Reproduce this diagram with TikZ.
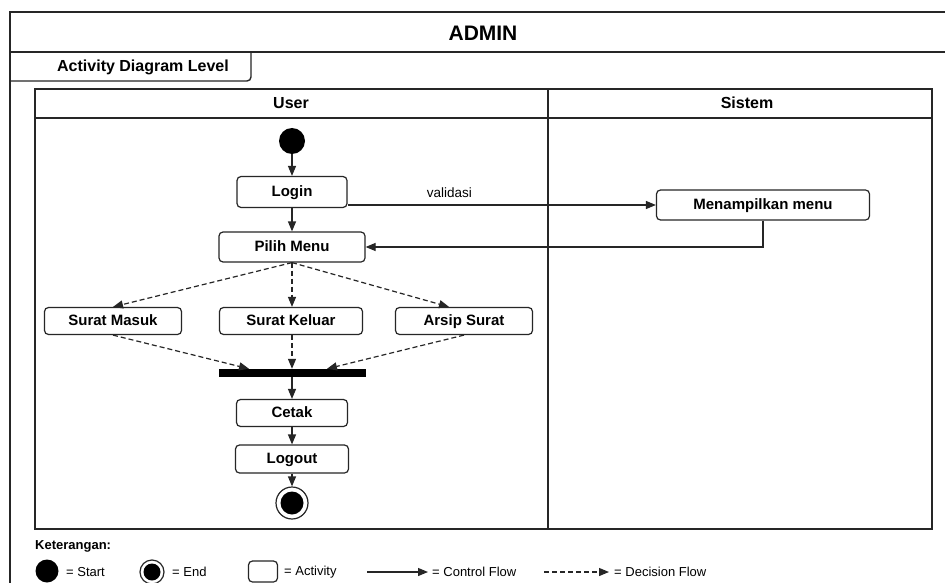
\documentclass[tikz,border=0pt]{standalone}
\usepackage{fontspec}
\setmainfont{Liberation Sans}
\usetikzlibrary{arrows.meta}

\begin{document}
\begin{tikzpicture}[x=1pt,y=-1pt,
    act/.style={draw=black!85,line width=1.2pt,rounded corners=4pt,fill=white,font=\fontsize{15}{18}\selectfont\bfseries,inner sep=0pt,text height=11pt,text depth=3pt},
    ctrl/.style={draw=black!85,line width=1.2pt,-{Triangle[length=10pt,width=8pt]}},
    dec/.style={ctrl,dash pattern=on 5pt off 3pt},
    lane/.style={draw=black!85,line width=1.4pt},
    head/.style={font=\fontsize{16}{19}\selectfont\bfseries},
    note/.style={font=\fontsize{13}{16}\selectfont,anchor=west,inner sep=0pt}]
    \useasboundingbox (0,0) rectangle (945,583);
    \fill[white] (0,0) rectangle (945,583);
    \draw[lane] (945,12) -- (10,12) -- (10,583);
    \draw[lane] (10,52) -- (945,52);
    \draw[lane,rounded corners=4pt] (10,81) -- (251,81) -- (251,52);
    \node[font=\fontsize{21}{25}\selectfont\bfseries] (admin) at (483,33) {ADMIN};
    \node[head] (level) at (143,67) {Activity Diagram Level};
    \draw[lane] (35,89) rectangle (932,529);
    \draw[lane] (35,118) -- (932,118);
    \draw[lane] (548,89) -- (548,529);
    \node[head] (user) at (291,103) {User};
    \node[head] (sistem) at (747,103) {Sistem};

    \node[circle,fill=black,minimum size=26pt,inner sep=0pt] (start) at (292,141) {};
    \node[act,minimum width=110pt,minimum height=31pt] (login) at (292,192) {Login};
    \node[act,minimum width=213pt,minimum height=30pt] (menu) at (763,205) {Menampilkan menu};
    \node[act,minimum width=146pt,minimum height=30pt] (pilih) at (292,247) {Pilih Menu};
    \node[act,minimum width=137pt,minimum height=27pt] (masuk) at (113,321) {Surat Masuk};
    \node[act,minimum width=143pt,minimum height=27pt] (keluar) at (291,321) {Surat Keluar};
    \node[act,minimum width=137pt,minimum height=27pt] (arsip) at (464,321) {Arsip Surat};
    \node[fill=black,minimum width=147pt,minimum height=8pt,inner sep=0pt] (bar) at (292,373) {};
    \node[act,minimum width=111pt,minimum height=27pt] (cetak) at (292,413) {Cetak};
    \node[act,minimum width=113pt,minimum height=28pt] (logout) at (292,459) {Logout};
    \node[circle,draw=black!85,line width=1.2pt,minimum size=32pt,inner sep=0pt] (end) at (292,503) {};
    \node[circle,fill=black,minimum size=23pt,inner sep=0pt] (endin) at (end) {};

    \draw[ctrl] (start) -- (login);
    \draw[ctrl] (login) -- (pilih);
    \draw[ctrl] (login.east |- menu.west) -- node[above=7pt,pos=0.33,font=\fontsize{13.5}{16}\selectfont,inner sep=0pt] (val) {validasi} (menu.west);
    \draw[ctrl] (menu.south) |- (pilih.east);
    \draw[dec] (pilih.south) -- (masuk.north);
    \draw[dec] (pilih.south) -- (pilih.south |- keluar.north);
    \draw[dec] (pilih.south) -- ([xshift=-15pt]arsip.north);
    \draw[dec] (masuk.south) -- ([xshift=-43pt]bar.north);
    \draw[dec] (bar.north |- keluar.south) -- (bar.north);
    \draw[dec] (arsip.south) -- ([xshift=35pt]bar.north);
    \draw[ctrl] (bar) -- (cetak);
    \draw[ctrl] (cetak) -- (logout);
    \draw[ctrl] (logout) -- (end);

    \node[note,font=\fontsize{13}{16}\selectfont\bfseries] (ket) at (35,546) {Keterangan:};
    \node[circle,fill=black,minimum size=23pt,inner sep=0pt] (lstart) at (47,571) {};
    \node[note] (tstart) at (66,572) {= Start};
    \node[circle,draw=black!85,line width=1.2pt,minimum size=24pt,inner sep=0pt] (lend) at (152,572) {};
    \node[circle,fill=black,minimum size=17pt,inner sep=0pt] (lendin) at (lend) {};
    \node[note] (tend) at (172,572) {= End};
    \node[act,minimum width=29pt,minimum height=21pt] (lact) at (263,571.5) {};
    \node[note] (tact) at (284,572) {= Activity};
    \coordinate (c1) at (367,572);
    \coordinate (c2) at (428,572);
    \draw[ctrl] (c1) -- (c2);
    \node[note] (tctrl) at (432,572) {= Control Flow};
    \coordinate (d1) at (544,572);
    \coordinate (d2) at (609,572);
    \draw[dec] (d1) -- (d2);
    \node[note] (tdec) at (614,572) {= Decision Flow};
\end{tikzpicture}
\end{document}
